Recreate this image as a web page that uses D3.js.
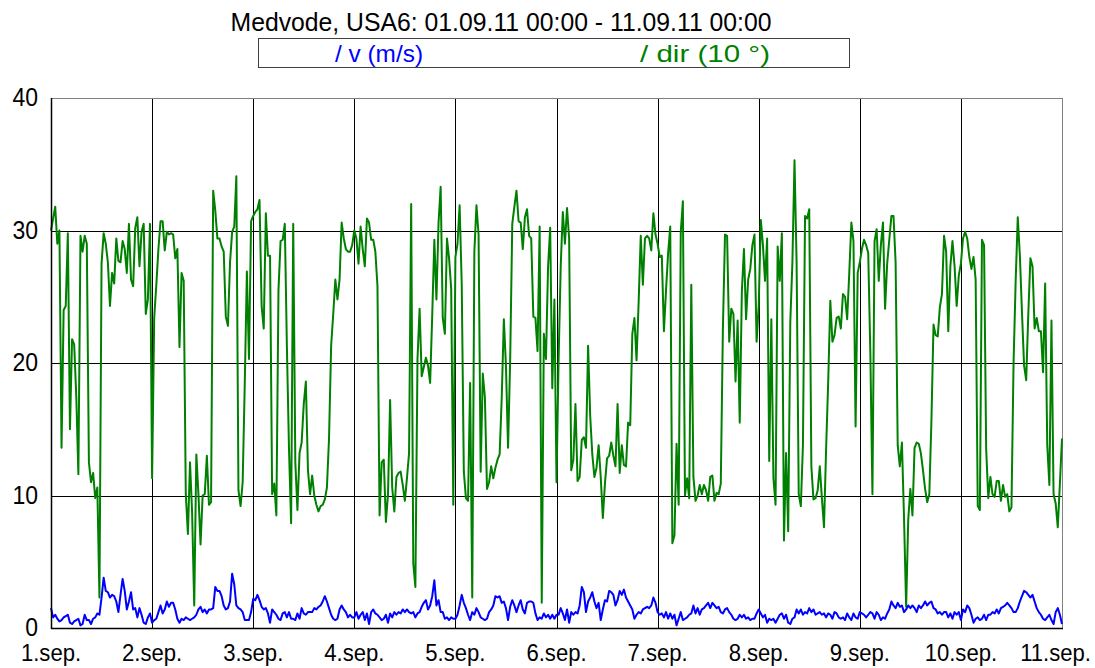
<!DOCTYPE html>
<html><head><meta charset="utf-8">
<script src="https://cdn.jsdelivr.net/npm/d3@7/dist/d3.min.js"></script>
<style>body{margin:0;background:#fff}text{font-family:"Liberation Sans",Arial,sans-serif}</style>
</head><body>
<svg id="c" width="1095" height="668"></svg>
<script>
const title = "Medvode, USA6: 01.09.11 00:00 - 11.09.11 00:00";
const legendLabels = ["/ v (m/s)", "/ dir (10 °)"];
const dayLabels = ["1.sep.","2.sep.","3.sep.","4.sep.","5.sep.","6.sep.","7.sep.","8.sep.","9.sep.","10.sep.","11.sep."];
const yTicks = [0, 10, 20, 30, 40];
const pointsPerDay = 48; // half-hourly

// wind direction (10 °), one array per day
const dirDay1 = [30.0,30.9,31.8,29.0,30.0,13.6,24.0,24.3,29.8,15.0,21.8,21.4,17.5,11.6,29.6,28.4,29.6,29.0,12.5,11.0,11.7,9.8,10.6,2.3,27.5,29.8,29.0,27.6,24.3,26.8,26.0,29.4,27.7,27.6,29.2,28.6,26.8,30.5,26.3,25.8,30.2,31.0,27.3,29.9,30.5,23.7,24.8,30.5];
const dirDay2 = [11.3,23.4,25.9,28.6,30.7,30.7,28.5,29.9,29.7,29.8,29.7,27.9,28.6,21.2,26.8,26.2,10.1,7.1,12.5,8.7,1.7,13.1,10.1,6.3,10.0,10.1,13.0,9.3,9.5,33.0,31.5,29.4,29.4,28.8,28.4,23.5,22.8,27.6,29.9,30.3,34.1,10.4,9.2,11.0,18.5,26.9,20.3,30.7];
const dirDay3 = [31.1,31.4,31.6,32.3,24.3,22.6,31.3,28.1,28.1,10.1,10.9,8.5,25.5,29.2,29.3,30.5,21.2,13.5,7.9,30.5,12.5,8.9,13.2,14.0,16.9,18.6,11.9,10.1,11.5,10.0,9.3,8.8,9.2,9.3,9.7,10.6,14.3,21.3,23.7,26.3,24.8,26.3,30.6,29.4,28.6,28.4,28.4,28.9];
const dirDay4 = [30.0,29.4,27.5,30.3,28.6,27.3,30.9,30.6,29.3,29.3,28.4,25.8,8.5,12.5,12.7,8.0,10.1,17.2,10.6,8.8,11.4,11.7,11.8,10.8,9.6,11.3,13.2,32.0,4.9,3.1,20.3,24.1,19.0,19.7,20.4,19.8,18.5,23.6,29.3,24.8,30.6,33.3,23.4,22.2,29.4,27.9,25.6,9.3];
const dirDay5 = [28.0,29.0,31.9,26.0,11.8,9.8,9.6,18.5,2.3,28.4,31.9,29.7,11.8,19.2,17.4,10.5,11.0,12.2,11.3,12.1,12.7,13.1,17.4,23.3,19.8,13.6,20.2,30.5,31.8,33.0,30.7,30.6,28.6,31.0,31.6,29.6,29.4,23.5,23.4,20.9,30.3,1.9,22.2,20.3,27.3,30.2,18.1,24.8];
const dirDay6 = [11.0,20.3,27.3,31.4,29.0,31.7,29.4,11.9,12.7,16.9,11.1,11.4,14.2,14.4,13.6,21.3,16.0,13.1,11.4,12.1,13.8,11.4,8.3,10.9,12.8,13.0,14.0,13.0,12.2,16.9,11.7,13.8,12.3,12.2,15.5,15.3,22.2,23.4,20.2,24.6,29.6,25.9,29.4,29.6,29.4,28.5,31.3,29.7];
const dirDay7 = [29.0,28.0,28.1,22.4,25.5,28.3,30.3,6.4,7.0,13.9,9.3,29.9,32.2,10.0,11.3,9.8,25.9,11.4,9.6,10.0,10.8,10.1,10.8,10.4,9.6,11.4,11.5,9.6,10.2,10.1,10.9,22.6,29.7,29.6,21.6,24.1,23.7,18.6,23.2,15.5,25.4,28.6,23.3,26.3,27.1,28.9,29.7,21.6];
const dirDay8 = [24.3,30.8,28.9,26.2,29.4,12.6,23.3,11.3,9.3,28.8,26.2,29.8,6.6,13.2,7.3,23.1,27.6,35.3,27.5,10.1,9.2,13.8,31.1,30.9,31.6,12.2,9.7,9.8,10.4,12.2,9.8,7.6,13.5,18.6,24.7,21.6,22.1,23.4,23.5,22.6,25.2,25.0,23.3,26.8,30.6,29.2,15.2,26.8];
const dirDay9 = [27.6,28.6,29.3,28.9,28.3,20.8,10.1,29.2,30.1,26.2,28.9,30.6,24.1,27.5,29.3,31.1,31.1,27.6,13.8,12.2,14.0,8.3,1.6,8.2,10.5,8.5,13.6,14.0,13.9,13.2,11.9,10.5,9.5,10.1,15.6,22.9,22.1,22.0,24.2,25.2,29.6,28.4,22.4,27.3,29.2,27.3,24.3,26.6];
const dirDay10 = [27.5,29.4,29.9,29.4,28.0,27.1,28.0,26.3,9.2,8.9,29.3,28.9,13.5,9.8,11.4,10.1,9.9,11.1,11.1,9.6,10.8,9.9,10.1,8.8,9.1,20.0,26.2,31.0,28.1,23.8,19.8,18.7,23.7,27.9,27.3,22.6,23.4,22.4,22.4,19.3,26.0,13.8,10.8,23.2,10.1,9.4,7.6,10.9];
const dirLast = 14.3;

// wind speed (m/s), one array per day
const vDay1 = [1.5,0.8,1.0,0.7,0.5,0.6,0.8,0.9,1.0,0.4,0.3,0.5,0.6,0.7,0.2,0.3,1.0,0.6,0.6,0.3,0.7,0.8,1.1,1.0,2.3,3.8,2.8,2.7,2.3,2.5,2.4,2.0,1.2,2.5,3.7,2.8,1.4,2.0,2.7,1.4,1.5,0.8,1.5,1.0,0.4,0.3,0.8,1.1];
const vDay2 = [0.4,0.6,0.7,1.2,1.7,1.1,1.4,2.0,1.6,1.9,1.9,1.4,0.7,0.4,0.7,0.6,0.8,0.7,0.6,0.7,0.8,1.0,1.4,1.6,1.2,1.4,1.1,1.4,1.4,1.5,3.1,2.8,2.8,2.4,1.7,1.4,1.5,2.0,4.1,3.3,1.7,1.5,1.4,1.2,0.6,0.6,0.6,1.2];
const vDay3 = [2.2,2.1,2.5,2.1,1.6,1.4,1.5,1.1,0.4,1.4,1.2,1.0,0.7,0.6,1.1,1.2,0.8,1.2,0.7,0.7,0.6,1.1,0.7,1.5,1.1,1.0,1.2,1.2,1.2,1.5,1.4,1.6,1.7,2.0,2.4,2.0,1.5,1.0,0.7,0.6,0.7,1.4,1.7,1.4,1.2,0.8,1.0,0.8];
const vDay4 = [0.8,1.2,0.7,1.0,1.2,0.6,1.1,0.3,1.2,1.4,1.1,1.0,0.8,0.6,0.7,1.0,0.4,1.1,0.8,1.2,1.0,1.2,1.1,1.4,1.2,1.4,1.2,1.1,1.2,0.8,1.1,1.2,1.6,1.9,2.1,1.4,1.7,2.4,3.6,1.7,2.1,1.2,1.2,0.7,0.8,0.6,0.8,0.7];
const vDay5 = [0.7,1.0,1.7,2.5,1.9,1.5,1.0,0.6,1.2,1.0,1.5,1.2,0.8,0.7,0.6,0.7,1.2,1.4,1.7,2.4,2.3,2.4,1.9,2.0,1.5,0.6,1.6,2.1,1.7,1.2,1.7,2.1,1.4,1.1,1.9,2.0,2.0,1.9,1.1,0.6,0.8,0.7,1.1,0.8,1.0,0.7,1.0,0.7];
const vDay6 = [1.0,1.0,1.5,1.1,0.6,1.4,0.4,1.2,1.0,1.2,1.1,1.7,3.1,2.7,1.2,2.0,2.3,2.7,2.0,1.5,1.9,0.6,1.4,2.1,2.0,2.8,2.7,2.5,1.7,2.1,2.8,2.5,2.9,2.3,2.0,1.7,1.4,0.7,1.0,1.2,1.1,1.4,1.5,1.6,1.5,1.7,2.3,1.9];
const vDay7 = [1.2,1.0,1.1,0.8,1.2,0.7,1.1,0.7,1.0,0.2,0.7,1.2,0.6,0.7,0.8,1.0,1.1,1.7,1.1,1.5,1.0,1.4,1.5,1.7,1.9,1.5,1.9,1.7,1.5,1.6,1.2,1.1,1.4,1.5,1.2,1.0,0.7,0.6,0.7,1.0,0.8,1.0,0.7,0.8,0.6,0.7,0.7,1.1];
const vDay8 = [1.4,1.1,0.8,1.0,0.4,0.7,0.6,0.7,0.4,0.7,1.0,1.1,0.7,1.0,0.4,0.3,0.7,0.8,1.4,1.1,1.4,1.0,1.2,1.1,1.5,1.2,1.4,1.0,1.1,1.2,1.0,1.1,0.8,1.1,1.0,0.7,1.2,1.1,0.8,0.7,0.8,0.6,1.1,0.8,0.6,1.1,0.8,0.7];
const vDay9 = [1.2,1.1,1.0,0.8,1.0,1.2,1.1,0.7,1.2,1.0,0.6,0.8,0.7,1.1,1.4,2.0,1.7,1.5,1.9,1.6,1.7,1.2,1.4,1.7,1.5,1.7,1.5,1.2,1.7,1.5,1.7,2.0,1.7,1.9,2.0,1.5,1.4,1.1,1.2,1.0,1.2,1.2,0.8,1.1,0.7,1.2,1.0,1.2];
const vDay10 = [0.6,1.4,1.2,1.7,1.5,1.0,0.4,0.7,0.8,0.6,0.7,1.0,0.6,1.0,1.0,1.2,1.1,1.4,1.1,1.5,1.6,1.7,1.9,1.7,1.5,1.2,1.2,1.5,2.0,2.4,2.8,2.7,2.5,2.3,2.5,2.0,1.5,1.2,1.0,0.7,0.6,0.8,1.0,0.6,0.3,1.2,1.5,1.0];
const vLast = 0.3;

const dir = [].concat(dirDay1,dirDay2,dirDay3,dirDay4,dirDay5,dirDay6,dirDay7,dirDay8,dirDay9,dirDay10,[dirLast]);
const v = [].concat(vDay1,vDay2,vDay3,vDay4,vDay5,vDay6,vDay7,vDay8,vDay9,vDay10,[vLast]);

const svg = d3.select("#c");
const L = 51, R = 1062, T = 98, B = 628;
const x = d3.scaleLinear().domain([0, dayLabels.length - 1]).range([L, R]);
const y = d3.scaleLinear().domain([0, 40]).range([B, T]);

function condense(sel, k) {
  sel.each(function () {
    const w = this.getComputedTextLength();
    d3.select(this).attr("textLength", w * k).attr("lengthAdjust", "spacingAndGlyphs");
  });
}

// grid
const g = svg.append("g");
g.selectAll("line.h").data(yTicks.filter(d => d > 0 && d < 40)).join("line")
  .attr("x1", L).attr("x2", R).attr("y1", d => Math.round(y(d)) + 0.5).attr("y2", d => Math.round(y(d)) + 0.5)
  .attr("stroke", "#000").attr("stroke-width", 1);
g.selectAll("line.v").data(d3.range(1, dayLabels.length - 1)).join("line")
  .attr("y1", T).attr("y2", B).attr("x1", d => Math.round(x(d)) + 0.5).attr("x2", d => Math.round(x(d)) + 0.5)
  .attr("stroke", "#000").attr("stroke-width", 1);
svg.append("line").attr("x1", L).attr("x2", R).attr("y1", T + 0.5).attr("y2", T + 0.5).attr("stroke", "#808080");
svg.append("line").attr("x1", R + 0.5).attr("x2", R + 0.5).attr("y1", T).attr("y2", B).attr("stroke", "#808080");

// series
const t = i => i / pointsPerDay;
const line = d3.line().x((d, i) => x(t(i))).y(d => y(d));
svg.append("path").datum(dir).attr("d", line).attr("fill", "none").attr("stroke", "#008000").attr("stroke-width", 2).attr("stroke-linejoin", "round");
svg.append("path").datum(v).attr("d", line).attr("fill", "none").attr("stroke", "#0000FF").attr("stroke-width", 2).attr("stroke-linejoin", "round");

// axes
svg.append("line").attr("x1", L + 0.5).attr("x2", L + 0.5).attr("y1", T).attr("y2", B + 1).attr("stroke", "#000").attr("stroke-width", 1.5);
svg.append("line").attr("x1", L).attr("x2", R + 1).attr("y1", B + 0.5).attr("y2", B + 0.5).attr("stroke", "#000").attr("stroke-width", 1.5);

// y tick labels
svg.selectAll("text.yl").data(yTicks).join("text").attr("class", "yl")
  .attr("x", 38).attr("y", d => y(d) + 8).attr("text-anchor", "end")
  .attr("font-size", 25).attr("fill", "#000").text(d => d).call(condense, 0.92);
// x tick labels
svg.selectAll("text.xl").data(dayLabels).join("text").attr("class", "xl")
  .attr("x", (d, i) => i === dayLabels.length - 1 ? 1091 : x(i)).attr("y", 661)
  .attr("text-anchor", (d, i) => i === dayLabels.length - 1 ? "end" : "middle")
  .attr("font-size", 23).attr("fill", "#000").text(d => d).call(condense, 0.96);

// title
svg.append("text").attr("x", 501).attr("y", 31).attr("text-anchor", "middle")
  .attr("font-size", 26).attr("textLength", 541).attr("lengthAdjust", "spacingAndGlyphs").text(title);

// legend
svg.append("rect").attr("x", 258.5).attr("y", 38.5).attr("width", 591).attr("height", 29)
  .attr("fill", "none").attr("stroke", "#404040").attr("stroke-width", 1);
const legColors = ["#0000FF", "#008000"];
const legX = [335, 640];
const legW = [88, 130];
svg.selectAll("text.lg").data(legendLabels).join("text").attr("class", "lg")
  .attr("x", (d, i) => legX[i]).attr("y", 62).attr("font-size", 24)
  .attr("fill", (d, i) => legColors[i]).attr("textLength", (d, i) => legW[i]).attr("lengthAdjust", "spacingAndGlyphs")
  .text(d => d);
</script>
</body></html>
